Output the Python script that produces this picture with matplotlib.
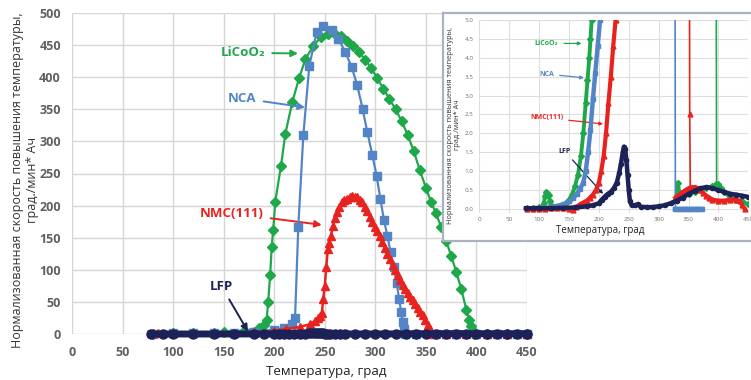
import numpy as np
import matplotlib
matplotlib.use('Agg')
import matplotlib.pyplot as plt

plt.rcParams['font.family'] = ['Open Sans', 'DejaVu Sans']

# colours of the four cathode chemistries
c_lco = '#1ea84a'
c_nca = '#5385c6'
c_nmc = '#e8231f'
c_lfp = '#1c2257'

# ---- main plot data (temperature, grad / normalised rate) ----
lco_x = [80, 100, 120, 140, 150, 170, 185, 190, 192.5, 194, 196, 197.5, 199, 201, 206.7, 211, 218,
         224.5, 230.8, 238.7, 246, 253.5, 260, 266, 272, 278, 284, 290, 296, 302, 308, 314, 320,
         326, 332, 338, 344, 350, 355, 360, 365, 370, 375, 380, 385, 390, 393, 395, 397, 398,
         410, 430, 450]
lco_y = [0, 1, 1, 2, 3, 5, 10, 14, 22, 50, 92, 136, 162, 206, 262, 312, 362,
         398, 428, 449, 462, 468, 468, 464, 457, 449, 439, 427, 414, 398, 382, 366, 350,
         332, 310, 285, 255, 228, 206, 188, 167, 145, 122, 97, 70, 38, 22, 12, 4, 0,
         0, 0, 0]

nca_x = [80, 100, 120, 140, 160, 180, 200, 210, 218, 220.6, 223.8, 228.8, 234.7, 242, 248.6,
         256.8, 263.4, 270, 276.6, 282, 287.4, 292, 297, 301.3, 305, 308.5, 312, 315, 318, 321,
         323.5, 325.5, 327, 328, 329, 340, 360, 380, 400, 420, 440, 450]
nca_y = [0, 1, 1, 2, 2, 3, 7, 10, 15, 25, 167, 310, 418, 470, 479,
         474, 460, 440, 416, 388, 351, 315, 279, 246, 210, 178, 152, 128, 105, 80,
         55, 35, 18, 8, 0, 0, 0, 0, 0, 0, 0, 0]

nmc_x = [85, 100, 120, 140, 160, 180, 200, 212, 225, 235, 240, 243, 245, 247, 248.5, 250, 251.5,
         253, 254.5, 256, 258, 260, 262, 264.5, 267, 269.5, 272, 274.5, 277, 279.5, 282, 284.5,
         287, 289.5, 292, 294.5, 297, 299.5, 302, 304.5, 307, 309.5, 312, 314.5, 317, 319.5,
         322, 324.5, 327, 329.5, 332, 334.5, 337, 339.5, 342, 344.5, 347, 349.5, 352, 354, 356,
         370, 390, 410, 430, 450]
nmc_y = [1, 1, 1, 1, 2, 3, 5, 8, 11, 15, 20, 25, 28, 32, 55, 75, 105,
         132, 142, 152, 168, 180, 190, 198, 205, 209, 211, 214, 215, 214, 213, 209,
         205, 198, 191, 183, 175, 167, 160, 152, 143, 134, 125, 117, 108, 100,
         92, 84, 77, 70, 64, 58, 53, 47, 41, 35, 29, 22, 14, 8, 0,
         0, 0, 0, 0, 0]

# LFP stays below 2 everywhere: the same readings serve the main plot and the inset
lfp_x = [78, 90, 100, 120, 140, 160, 180, 190, 200, 205, 210, 215, 220, 225, 230, 234, 237, 240,
         242, 244, 246, 248, 250, 252, 255, 260, 265, 270, 280, 290, 300, 310, 320, 330, 340,
         350, 360, 370, 380, 390, 400, 410, 420, 430, 440, 450]
lfp_y = [0.02, 0.02, 0.02, 0.02, 0.03, 0.04, 0.07, 0.1, 0.15, 0.25, 0.33, 0.4, 0.45, 0.55, 0.7,
         0.95, 1.2, 1.5, 1.65, 1.6, 1.3, 0.9, 0.5, 0.2, 0.1, 0.1, 0.12, 0.06, 0.05, 0.05, 0.07,
         0.1, 0.15, 0.22, 0.3, 0.4, 0.48, 0.55, 0.58, 0.55, 0.5, 0.45, 0.4, 0.38, 0.35, 0.32]

# ---- inset (0..5 zoom) data ----
lco_in_x = [80, 90, 100, 105, 108, 110, 112, 114, 116, 118, 120, 125, 130, 135, 140, 145, 150,
            155, 160, 165, 170, 174, 178, 181, 184, 186, 188]
lco_in_y = [0.02, 0.03, 0.04, 0.06, 0.15, 0.35, 0.46, 0.42, 0.38, 0.2, 0.1, 0.06, 0.05, 0.07,
            0.1, 0.16, 0.25, 0.38, 0.6, 0.9, 1.4, 2.0, 2.8, 3.4, 4.0, 4.5, 5.0]
lco_jump_x = [188, 255, 396, 397]
lco_jump_y = [5.0, 468, 9, 0.65]
lco_tail_x = [330, 332, 335, 340, 350, 360, 370, 380, 390, 396, 400, 405, 410, 420, 430, 440, 450]
lco_tail_y = [0.35, 0.7, 0.4, 0.35, 0.4, 0.45, 0.5, 0.55, 0.6, 0.65, 0.65, 0.55, 0.45, 0.3,
              0.25, 0.2, 0.12]

nca_in_x = [80, 90, 100, 110, 120, 130, 140, 150, 157, 163, 168, 174, 178, 182, 186, 190, 194,
            198, 202]
nca_in_y = [0.0, 0.01, 0.02, 0.03, 0.05, 0.08, 0.12, 0.2, 0.28, 0.4, 0.52, 0.7, 1.0, 1.5, 2.1,
            2.9, 3.6, 4.3, 5.0]
nca_jump_x = [202, 250, 327, 328]
nca_jump_y = [5.0, 479, 11, 0.0]
nca_tail_x = [328, 332, 336, 340, 344, 348, 352, 356, 360, 364, 368, 372]
nca_tail_y = [0, 0, 0, 0, 0, 0, 0, 0, 0, 0, 0, 0]

nmc_in_x = [80, 90, 100, 110, 120, 130, 140, 150, 157, 162, 168, 175, 180, 185, 190, 195, 200,
            204, 208, 212, 216, 220, 224, 228]
nmc_in_y = [0.0, 0.0, 0.01, 0.01, 0.02, 0.02, 0.02, 0.0, -0.02, 0.05, 0.12, 0.18, 0.22, 0.3,
            0.38, 0.5, 0.7, 1.0, 1.4, 2.0, 2.8, 3.5, 4.3, 5.0]
nmc_jump_x = [228, 278, 350, 352, 353]
nmc_jump_y = [5.0, 214, 20, 2.5, 0.55]
nmc_tail_x = [328, 332, 336, 340, 345, 350, 355, 360, 365, 370, 375, 380, 385, 390, 400, 410,
              420, 430, 436, 440, 444]
nmc_tail_y = [0.3, 0.35, 0.4, 0.45, 0.5, 0.55, 0.57, 0.58, 0.55, 0.5, 0.42, 0.35, 0.3, 0.25,
              0.22, 0.22, 0.25, 0.25, 0.2, 0.1, 0.0]

x_ticks = np.arange(0, 451, 50)
y_ticks = np.arange(0, 501, 50)
in_y_ticks = np.arange(0, 5.01, 0.5)

ylab = 'Нормализованная скорость повышения температуры,\nград./мин* Ач'
xlab = 'Температура, град'

W, H = 751, 380
fig = plt.figure(figsize=(W / 100, H / 100), dpi=100)

# ---------------- main axes ----------------
ax = fig.add_axes([72 / W, 1 - 334 / H, 455 / W, 321 / H])
ax.set_xlim(0, 450)
ax.set_ylim(0, 500)
ax.set_xticks(x_ticks)
ax.set_yticks(y_ticks)
ax.grid(True, color='#d6d6d6', lw=1.0)
ax.set_axisbelow(True)
for s in ax.spines.values():
    s.set_visible(False)
ax.tick_params(length=0, labelsize=9, labelcolor='#606060')
ax.tick_params(axis='x', pad=9)
ax.tick_params(axis='y', pad=8)
for lab in ax.get_xticklabels() + ax.get_yticklabels():
    lab.set_fontweight('bold')

ax.plot(lco_x, lco_y, color=c_lco, lw=1.6, marker='D', ms=5.5, clip_on=False, zorder=3)
ax.plot(nca_x, nca_y, color=c_nca, lw=1.6, marker='s', ms=5.5, clip_on=False, zorder=4)
ax.plot(nmc_x, nmc_y, color=c_nmc, lw=1.8, marker='^', ms=6, clip_on=False, zorder=5)
ax.plot(lfp_x, lfp_y, color=c_lfp, lw=5, marker='o', ms=6.5, clip_on=False, zorder=6)

arrow = dict(arrowstyle='-|>', lw=1.4, shrinkA=3, shrinkB=0, mutation_scale=10)
ax.annotate('LiCoO₂', xy=(223.5, 437), xytext=(169, 438), color=c_lco, fontsize=9.5,
            fontweight='bold', ha='center', va='center', arrowprops=dict(arrow, color=c_lco))
ax.annotate('NCA', xy=(230.5, 353), xytext=(168.6, 367), color=c_nca, fontsize=9.5,
            fontweight='bold', ha='center', va='center', arrowprops=dict(arrow, color=c_nca))
ax.annotate('NMC(111)', xy=(247, 170), xytext=(158, 188), color=c_nmc, fontsize=9.5,
            fontweight='bold', ha='center', va='center', arrowprops=dict(arrow, color=c_nmc))
ax.annotate('LFP', xy=(174, 4), xytext=(148, 74), color=c_lfp, fontsize=9.5,
            fontweight='bold', ha='center', va='center', arrowprops=dict(arrow, color=c_lfp))

fig.text(25 / W, 1 - 180 / H, ylab, rotation=90, ha='center', va='center',
         fontsize=9, color='#333333', linespacing=1.15)
fig.text(326 / W, 1 - 372 / H, xlab, ha='center', va='center', fontsize=9.5, color='#222222')

# ---------------- inset ----------------
bg = fig.add_axes([443 / W, 1 - 241 / H, 320 / W, 228 / H], zorder=5)
bg.set_xticks([])
bg.set_yticks([])
for s in bg.spines.values():
    s.set_color('#a9b1c3')
    s.set_linewidth(1.6)

ppu = 37.8  # pixels per unit in the inset y direction
iy0, iy1 = -0.1, 5.0
ins = fig.add_axes([479.3 / W, 1 - (209 - iy0 * ppu) / H, 269 / W, (iy1 - iy0) * ppu / H], zorder=6)
ins.patch.set_alpha(0)
ins.set_xlim(0, 450)
ins.set_ylim(iy0, iy1)
ins.set_xticks(x_ticks)
ins.set_yticks(in_y_ticks)
ins.set_yticklabels(['%.1f' % v for v in in_y_ticks])
ins.grid(True, color='#dedede', lw=0.8)
ins.set_axisbelow(True)
for s in ins.spines.values():
    s.set_visible(False)
ins.tick_params(length=0, labelsize=4.5, labelcolor='#707070')
ins.tick_params(axis='x', pad=3)
ins.tick_params(axis='y', pad=4)

ins.plot(lco_in_x, lco_in_y, color=c_lco, lw=2.8, marker='D', ms=3, zorder=3)
ins.plot(lco_tail_x, lco_tail_y, color=c_lco, lw=2.8, marker='D', ms=3, zorder=3)
ins.plot(lco_jump_x, lco_jump_y, color=c_lco, lw=1.2, zorder=3)
ins.plot(nca_in_x, nca_in_y, color=c_nca, lw=3.2, marker='s', ms=3, zorder=4)
ins.plot(nca_tail_x, nca_tail_y, color=c_nca, lw=3.2, marker='s', ms=3, zorder=4)
ins.plot(nca_jump_x, nca_jump_y, color=c_nca, lw=1.2, zorder=4)
ins.plot(nmc_in_x, nmc_in_y, color=c_nmc, lw=3, marker='^', ms=3.5, zorder=5)
ins.plot(nmc_tail_x, nmc_tail_y, color=c_nmc, lw=3, marker='^', ms=3.5, zorder=5)
ins.plot(nmc_jump_x, nmc_jump_y, color=c_nmc, lw=1.2, marker='^', ms=3.5, markevery=[3], zorder=5)
ins.plot(lfp_x, lfp_y, color=c_lfp, lw=3.2, marker='o', ms=3, zorder=6)

arrow_s = dict(arrowstyle='-|>', lw=0.9, shrinkA=2, shrinkB=0, mutation_scale=5)
ins.annotate('LiCoO₂', xy=(171, 4.38), xytext=(112.7, 4.38), color=c_lco, fontsize=5,
             fontweight='bold', ha='center', va='center', arrowprops=dict(arrow_s, color=c_lco))
ins.annotate('NCA', xy=(175, 3.47), xytext=(112.7, 3.57), color=c_nca, fontsize=5,
             fontweight='bold', ha='center', va='center', arrowprops=dict(arrow_s, color=c_nca))
ins.annotate('NMC(111)', xy=(207, 2.25), xytext=(112.7, 2.41), color=c_nmc, fontsize=5,
             fontweight='bold', ha='center', va='center', arrowprops=dict(arrow_s, color=c_nmc))
ins.annotate('LFP', xy=(207, 0.4), xytext=(143.3, 1.52), color=c_lfp, fontsize=5,
             fontweight='bold', ha='center', va='center', arrowprops=dict(arrow_s, color=c_lfp))

fig.text(454 / W, 1 - 125 / H, ylab, rotation=90, ha='center', va='center',
         fontsize=5.3, color='#333333', linespacing=1.1, zorder=7)
fig.text(600 / W, 1 - 231 / H, xlab, ha='center', va='center', fontsize=7,
         color='#222222', zorder=7)

fig.savefig('out.png', dpi=100)
